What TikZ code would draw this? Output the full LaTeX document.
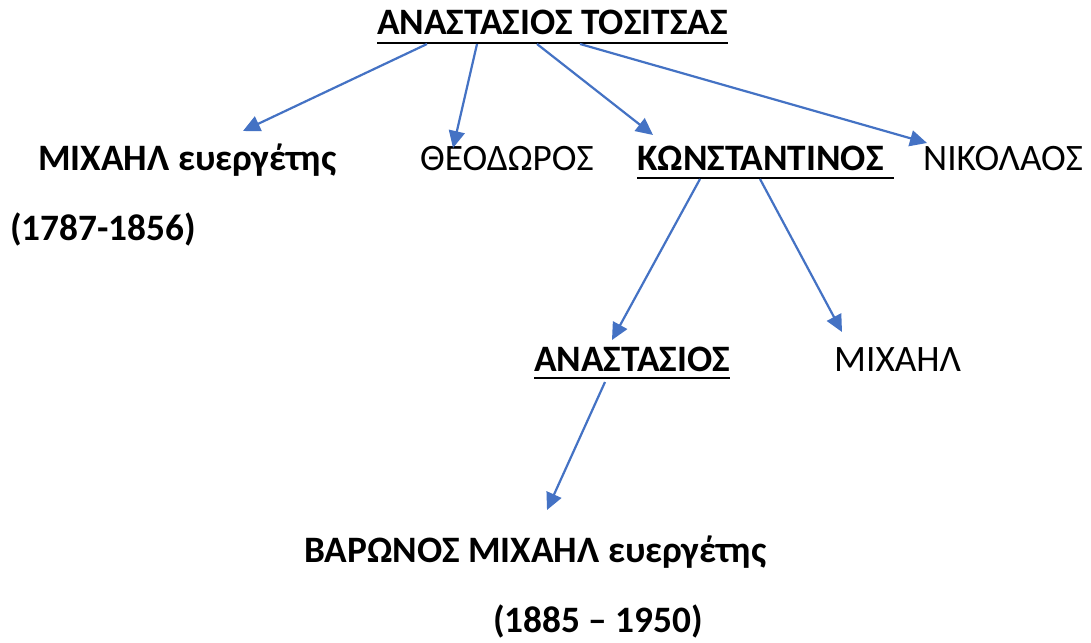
\documentclass[tikz,border=0pt]{standalone}
\usepackage{fontspec}
\setmainfont{Carlito}
\usetikzlibrary{arrows.meta,calc}
\definecolor{arrblue}{RGB}{68,114,196}
\begin{document}
\begin{tikzpicture}[x=1pt,y=-1pt,
  lbl/.style={anchor=base west,inner sep=0pt,font=\fontsize{37.3}{44}\selectfont},
  blbl/.style={anchor=base west,inner sep=0pt,font=\fontsize{37.3}{44}\selectfont\bfseries},
  arr/.style={draw=arrblue,line width=2.2pt,-{Triangle[length=17pt,width=16pt]}},
  uline/.style={draw=black,line width=2.6pt}]
\useasboundingbox (0,0) rectangle (1091,642);
\fill[white] (0,0) rectangle (1091,642);
\node[blbl] (t) at (377,35) {ΑΝΑΣΤΑΣΙΟΣ ΤΟΣΙΤΣΑΣ};
\draw[uline] ($(t.base west)+(0,8)$) -- ($(t.base east)+(0,8)$);
\node[blbl] (m1) at (38,170) {ΜΙΧΑΗΛ ευεργέτης};
\node[blbl] (d1) at (10,240) {(1787-1856)};
\node[lbl] (th) at (420,170) {ΘΕΟΔΩΡΟΣ};
\node[blbl] (k) at (637,170) {ΚΩΝΣΤΑΝΤΙΝΟΣ};
\draw[uline] ($(k.base west)+(0,8)$) -- ($(k.base east)+(10,8)$);
\node[lbl] (n) at (923,170) {ΝΙΚΟΛΑΟΣ};
\node[blbl] (a) at (534,371) {ΑΝΑΣΤΑΣΙΟΣ};
\draw[uline] ($(a.base west)+(0,7)$) -- ($(a.base east)+(0,7)$);
\node[lbl] (m2) at (834,371) {ΜΙΧΑΗΛ};
\node[blbl] (b) at (304,562) {ΒΑΡΩΝΟΣ ΜΙΧΑΗΛ ευεργέτης};
\node[blbl] (d2) at (493,632) {(1885 – 1950)};
\draw[arr] ($(t.base west)+(50,9)$) -- ($(m1.base west)+(205,-39)$);
\draw[arr] ($(t.base west)+(100,9)$) -- ($(th.base west)+(33,-22)$);
\draw[arr] ($(t.base west)+(160,9)$) -- ($(k.base west)+(16,-35)$);
\draw[arr] ($(t.base west)+(203,9)$) -- ($(n.base west)+(4,-27)$);
\draw[arr] ($(k.base west)+(63,9)$) -- ($(a.base west)+(78,-31)$);
\draw[arr] ($(k.base west)+(123,9)$) -- ($(m2.base west)+(8,-39)$);
\draw[arr] ($(a.base west)+(71,11)$) -- ($(b.base west)+(243,-52)$);
\end{tikzpicture}
\end{document}
